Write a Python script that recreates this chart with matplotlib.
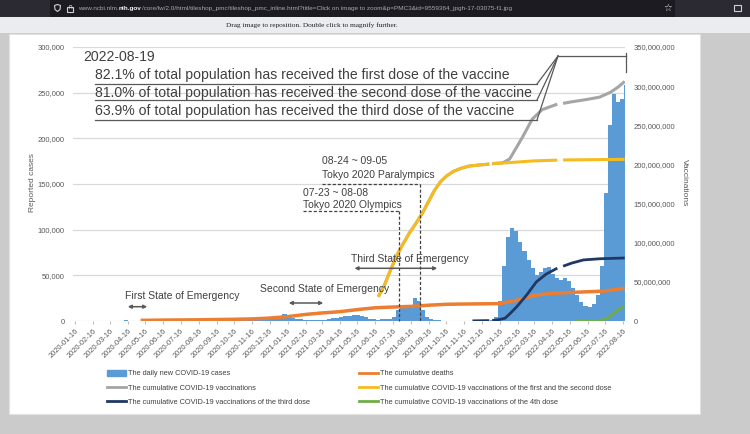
import numpy as np
import pandas as pd
import matplotlib
matplotlib.use('Agg')
import matplotlib.pyplot as plt
from matplotlib.patches import Rectangle, FancyArrowPatch, Patch, Polygon
from matplotlib.lines import Line2D
from matplotlib.ticker import FuncFormatter, MultipleLocator

plt.rcParams['font.family'] = ['Liberation Sans', 'DejaVu Sans']

# ---------------- data ----------------
# daily new cases, one value per week (weeks start 2020-01-16)
case_week_start = '2020-01-16'
daily_cases = [
    1, 2, 3, 6, 10, 15, 25, 40, 45, 50,
    120, 300, 550, 500, 350, 200, 80, 40, 30, 30,
    40, 45, 60, 100, 200, 350, 600, 900, 1300, 1300,
    1000, 800, 600, 520, 500, 500, 480, 550, 600, 600,
    650, 750, 1000, 1600, 2100, 2300, 2300, 2700, 2900, 3300,
    3500, 8000, 5000, 3500, 2500, 2000, 1400, 1200, 1000, 1100,
    1200, 1400, 1900, 2800, 3500, 4500, 5500, 6000, 7000, 6800,
    5500, 4000, 2600, 1800, 1500, 1700, 2000, 2600, 4000, 12000,
    14000, 14000, 18000, 25000, 22000, 12000, 4000, 2000, 1000, 700,
    500, 350, 300, 250, 200, 150, 120, 120, 120, 150,
    180, 250, 700, 4000, 22000, 60000, 92000, 102000, 98000, 86000,
    77000, 67000, 58000, 50000, 54000, 58000, 59000, 52000, 47000, 45000,
    47000, 44000, 36000, 28000, 21000, 16000, 15000, 19000, 28000, 60000,
    140000, 215000, 248000, 240000, 243000, 258000,
]

# cumulative deaths (left axis)
death_dates = ['2020-05-08', '2020-06-16', '2020-08-16', '2020-10-16', '2020-11-16',
               '2020-12-16', '2021-01-16', '2021-02-16', '2021-03-16', '2021-04-16',
               '2021-05-16', '2021-06-16', '2021-07-16', '2021-08-16', '2021-09-16',
               '2021-10-16', '2021-11-16', '2021-12-16', '2022-01-16', '2022-02-16',
               '2022-03-16', '2022-04-16', '2022-05-16', '2022-06-16', '2022-07-16',
               '2022-08-19']
deaths = [700, 1000, 1300, 1900, 2300, 3200, 4800, 7200, 8800, 10200,
          12500, 14500, 15300, 16000, 17300, 18300, 18600, 18800, 19000, 23000,
          28000, 30300, 31200, 32000, 32800, 36000]

# cumulative vaccinations (right axis, millions); nan = gap in the line
total_dates = ['2021-06-21', '2021-07-01', '2021-07-12', '2021-07-23', '2021-08-03',
               '2021-08-14', '2021-08-25', '2021-09-05', '2021-09-15', '2021-09-25',
               '2021-10-05', '2021-10-16', '2021-10-28', '2021-11-10', '2021-11-25',
               '2021-12-29', '2021-12-31', '2022-01-03', '2022-01-21', '2022-02-02',
               '2022-02-14', '2022-02-25', '2022-03-13', '2022-03-30', '2022-04-25',
               '2022-04-30', '2022-05-05', '2022-05-20', '2022-06-15', '2022-07-07',
               '2022-07-25', '2022-08-08', '2022-08-19']
total_vacc = [31, 45, 65, 84, 99, 113, 125, 138, 152, 166,
              177, 185, 191, 195, 198, 200.5, np.nan, 201, 202, 207,
              222, 236, 258, 270, 277, np.nan, 278, 280, 283, 286,
              292, 299, 306]

dose12_dates = ['2021-06-21', '2021-07-01', '2021-07-12', '2021-07-23', '2021-08-03',
                '2021-08-14', '2021-08-25', '2021-09-05', '2021-09-15', '2021-09-25',
                '2021-10-05', '2021-10-16', '2021-10-28', '2021-11-10', '2021-11-25',
                '2021-12-29', '2021-12-31', '2022-01-03', '2022-02-15', '2022-03-15',
                '2022-04-25', '2022-04-30', '2022-05-05', '2022-06-15', '2022-08-19']
dose12_vacc = [31, 45, 65, 84, 99, 113, 125, 138, 152, 166,
               177, 185, 191, 195, 198, 200.5, np.nan, 201, 203, 204.5,
               205.5, np.nan, 205.7, 206, 206.5]

dose3_dates = ['2021-11-30', '2021-12-29', '2021-12-31', '2022-01-03', '2022-01-11',
               '2022-01-25', '2022-02-02', '2022-02-14', '2022-03-03', '2022-03-20',
               '2022-04-06', '2022-04-25', '2022-04-30', '2022-05-05', '2022-05-20',
               '2022-06-09', '2022-07-07', '2022-08-19']
dose3_vacc = [0.2, 0.5, np.nan, 0.7, 1.2, 3.5, 9, 18, 33, 50,
              60, 67.5, np.nan, 70, 74, 78, 79.5, 80.5]

dose4_dates = ['2022-05-25', '2022-07-07', '2022-07-19', '2022-07-25', '2022-08-06',
               '2022-08-12', '2022-08-19']
dose4_vacc = [0, 0.5, 3, 7, 13, 16, 20]

month_ticks = pd.date_range('2020-01-01', '2022-08-01', freq='MS') + pd.Timedelta(days=15)

C_CASES = '#5b9bd5'
C_DEATH = '#ed7d31'
C_TOTAL = '#a5a5a5'
C_D12 = '#f5bb1f'
C_D3 = '#203864'
C_D4 = '#70ad47'
TXT = '#404040'
TICK = '#595959'

W, H = 750, 434


def fx(x):
    return x / W


def fy(y):
    return 1 - y / H


fig = plt.figure(figsize=(7.5, 4.34), dpi=100, facecolor='#cbcbcb')

# ---------------- browser chrome ----------------
fig.add_artist(Rectangle((0, fy(17)), 1, 17 / H, transform=fig.transFigure,
                         facecolor='#2b2a33', edgecolor='none', zorder=-20))
fig.add_artist(Rectangle((fx(50), fy(17)), fx(675) - fx(50), 17 / H, transform=fig.transFigure,
                         facecolor='#1c1b22', edgecolor='none', zorder=-19))
fig.add_artist(Rectangle((0, fy(33)), 1, 16 / H, transform=fig.transFigure,
                         facecolor='#eaecf0', edgecolor='none', zorder=-20))
fig.add_artist(Rectangle((fx(9), fy(414)), fx(700) - fx(9), 380 / H, transform=fig.transFigure,
                         facecolor='white', edgecolor='#e2e2e2', lw=0.8, zorder=-18))

# shield + lock icons
fig.add_artist(Polygon([(fx(54.5), fy(5.5)), (fx(57.5), fy(4.5)), (fx(60.5), fy(5.5)),
                        (fx(60), fy(9.5)), (fx(57.5), fy(11.5)), (fx(55), fy(9.5))],
                       closed=True, transform=fig.transFigure, fill=False,
                       edgecolor='#d0d0d6', lw=0.8))
fig.add_artist(Rectangle((fx(67), fy(11.5)), 6 / W, 4.5 / H, transform=fig.transFigure,
                         fill=False, edgecolor='#d0d0d6', lw=0.8))
fig.text(fx(70), fy(6.5), '\u2229', fontsize=5, color='#d0d0d6', ha='center', va='center',
         family='DejaVu Sans')
fig.text(fx(668), fy(8), '\u2606', fontsize=7, color='#e0e0e6', ha='center', va='center',
         family='DejaVu Sans')
fig.add_artist(Rectangle((fx(733.5), fy(11)), 7 / W, 6 / H, transform=fig.transFigure,
                         fill=False, edgecolor='#d0d0d6', lw=0.8))

renderer = fig.canvas.get_renderer()
url_parts = [('www.ncbi.nlm.', '#a8a8b0', 'normal'), ('nih.gov', '#f4f4f6', 'bold'),
             ('/core/lw/2.0/html/tileshop_pmc/tileshop_pmc_inline.html?title=Click on image '
              'to zoom&p=PMC3&id=9559364_jpgh-17-03075-f1.jpg', '#a8a8b0', 'normal')]
xpos = 78
for part, col, wt in url_parts:
    t = fig.text(fx(xpos), fy(8.5), part, fontsize=4.6, color=col, weight=wt, va='center')
    xpos = t.get_window_extent(renderer).x1

fig.text(fx(312), fy(25), 'Drag image to reposition. Double click to magnify further.',
         fontsize=5.2, color='#202020', ha='center', va='center', family='Liberation Serif')

# ---------------- chart ----------------
ax = fig.add_axes([fx(73), fy(321), fx(625) - fx(73), (321 - 47) / H])
ax.set_facecolor('none')
ax2 = ax.twinx()

weeks = pd.date_range(case_week_start, periods=len(daily_cases), freq='7D')
ax.bar(weeks, daily_cases, width=7, align='edge', color=C_CASES, linewidth=0, zorder=2)
ax.plot(pd.to_datetime(death_dates), deaths, color=C_DEATH, lw=2.5,
        solid_capstyle='butt', zorder=3)

ax2.plot(pd.to_datetime(total_dates), np.array(total_vacc) * 1e6, color=C_TOTAL, lw=2.2,
         solid_capstyle='butt')
ax2.plot(pd.to_datetime(dose12_dates), np.array(dose12_vacc) * 1e6, color=C_D12, lw=2.2,
         solid_capstyle='butt')
ax2.plot(pd.to_datetime(dose3_dates), np.array(dose3_vacc) * 1e6, color=C_D3, lw=2.0,
         solid_capstyle='butt')
ax2.plot(pd.to_datetime(dose4_dates), np.array(dose4_vacc) * 1e6, color=C_D4, lw=2.0,
         solid_capstyle='butt')

ax.set_xlim(pd.Timestamp('2020-01-12 14:00'), pd.Timestamp('2022-08-19 12:00'))
ax.set_ylim(0, 300000)
ax2.set_ylim(0, 350e6)
ax.yaxis.set_major_locator(MultipleLocator(50000))
ax2.yaxis.set_major_locator(MultipleLocator(50e6))
comma = FuncFormatter(lambda v, p: f'{int(round(v)):,}')
ax.yaxis.set_major_formatter(comma)
ax2.yaxis.set_major_formatter(comma)
ax.grid(axis='y', color='#d9d9d9', lw=0.9)
ax.set_axisbelow(True)
for a in (ax, ax2):
    for s in a.spines.values():
        s.set_visible(False)
ax.tick_params(axis='y', length=0, pad=6, labelsize=5.5, labelcolor=TICK)
ax2.tick_params(axis='y', length=0, pad=6, labelsize=5.5, labelcolor=TICK)

ax.set_xticks(month_ticks)
ax.set_xticklabels([d.strftime('%Y-%m-%d') for d in month_ticks], rotation=45,
                   ha='right', rotation_mode='anchor', fontsize=5.4, color=TICK)
ax.tick_params(axis='x', length=2.5, color='#bfbfbf', pad=2)

fig.text(fx(32), fy(183), 'Reported cases', rotation=90, fontsize=6, color=TICK,
         ha='center', va='center')
fig.text(fx(684), fy(183), 'Vaccinations', rotation=270, fontsize=6, color=TICK,
         ha='center', va='center')

# ---------------- annotations ----------------
fig.text(fx(83), fy(60.8), '2022-08-19', fontsize=10.1, color=TXT)
notes = ['82.1% of total population has received the first dose of the vaccine',
         '81.0% of total population has received the second dose of the vaccine',
         '63.9% of total population has received the third dose of the vaccine']
for txt, yb in zip(notes, [79.4, 97.4, 115.4]):
    fig.text(fx(95), fy(yb), txt, fontsize=10.1, color=TXT)


def seg(x0, y0, x1, y1, **kw):
    fig.add_artist(Line2D([fx(x0), fx(x1)], [fy(y0), fy(y1)], transform=fig.transFigure, **kw))


for yu in (84, 100, 120):
    seg(95, yu, 537, yu, color=TICK, lw=0.9)
    seg(537, yu, 558, 56, color=TICK, lw=0.9)
seg(558, 56, 626, 56, color=TICK, lw=0.9)
seg(626, 52.5, 626, 72, color=TICK, lw=0.9)

dash = dict(color=TXT, lw=0.9, linestyle=(0, (2.5, 1.6)))
fig.text(fx(303), fy(196), '07-23 ~ 08-08', fontsize=7.5, color=TXT)
fig.text(fx(303), fy(208), 'Tokyo 2020 Olympics', fontsize=7.5, color=TXT)
seg(303, 211, 399, 211, **dash)
seg(399, 211, 399, 321, **dash)
fig.text(fx(321.7), fy(163.7), '08-24 ~ 09-05', fontsize=7.5, color=TXT)
fig.text(fx(321.7), fy(177.7), 'Tokyo 2020 Paralympics', fontsize=7.5, color=TXT)
seg(321.7, 184.3, 420, 184.3, **dash)
seg(420, 184.3, 420, 321, **dash)

emerg = [('First State of Emergency', 125, 299.4, 125, 150, 306.7),
         ('Second State of Emergency', 260, 292.2, 286, 326, 303),
         ('Third State of Emergency', 351, 262, 351.7, 440, 268.3)]
for label, tx, ty, a0, a1, ay in emerg:
    fig.text(fx(tx), fy(ty), label, fontsize=7.5, color=TXT)
    fig.add_artist(FancyArrowPatch((fx(a0), fy(ay)), (fx(a1), fy(ay)),
                                   transform=fig.transFigure, arrowstyle='<|-|>',
                                   mutation_scale=5, color=TICK, lw=1.1))

# ---------------- legend ----------------
leg_kw = dict(frameon=False, fontsize=5.3, handlelength=2.6, handleheight=0.75,
              handletextpad=0.25, labelspacing=0.95, borderpad=0, borderaxespad=0,
              labelcolor=TXT, loc='center left')
fig.legend(handles=[Patch(color=C_CASES), Line2D([], [], color=C_TOTAL, lw=2),
                    Line2D([], [], color=C_D3, lw=2)],
           labels=['The daily new COVID-19 cases', 'The cumulative COVID-19 vaccinations',
                   'The cumulative COVID-19 vaccinations of the third dose'],
           bbox_to_anchor=(fx(107), fy(388)), **leg_kw)
fig.legend(handles=[Line2D([], [], color=C_DEATH, lw=2), Line2D([], [], color=C_D12, lw=2),
                    Line2D([], [], color=C_D4, lw=2)],
           labels=['The cumulative deaths',
                   'The cumulative COVID-19 vaccinations of the first and the second dose',
                   'The cumulative COVID-19 vaccinations of the 4th dose'],
           bbox_to_anchor=(fx(359), fy(388)), **leg_kw)

fig.savefig('out.png', dpi=100, facecolor=fig.get_facecolor())
